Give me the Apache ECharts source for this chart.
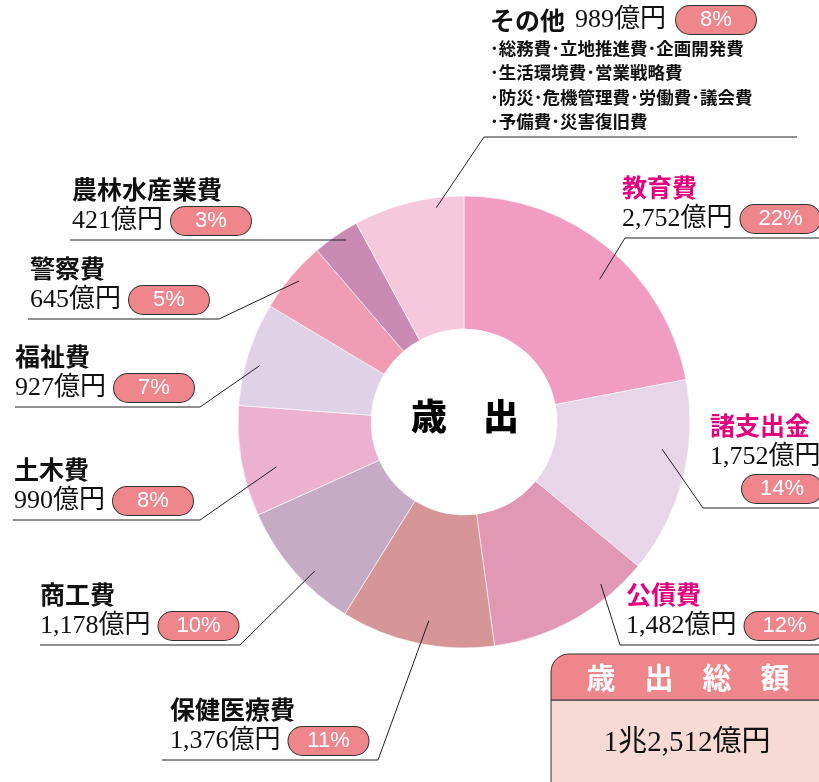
<!DOCTYPE html>
<html>
<head>
<meta charset="utf-8">
<script src="https://cdn.jsdelivr.net/npm/echarts@6/dist/echarts.min.js"></script>
<style>
    html, body { margin: 0; padding: 0; background: #fff; }
    #main { width: 819px; height: 782px; }
</style>
</head>
<body>
<div id="main"></div>
<script>
// 歳出の内訳（億円）
const names = ['教育費', '諸支出金', '公債費', '保健医療費', '商工費', '土木費', '福祉費', '警察費', '農林水産業費', 'その他'];
const amounts = [2752, 1752, 1482, 1376, 1178, 990, 927, 645, 421, 989];
const shares = [22, 14, 12, 11, 10, 8, 7, 5, 3, 8];
const highlightNames = ['教育費', '諸支出金', '公債費'];
const otherItems = ['･総務費･立地推進費･企画開発費', '･生活環境費･営業戦略費', '･防災･危機管理費･労働費･議会費', '･予備費･災害復旧費'];
const centerText = '歳　出';
const totalTitle = '歳　出　総　額';
const totalText = '1兆2,512億円';

const sliceColors = ['#F09DC1', '#E7D6E8', '#E098B4', '#D69597', '#C6ABC5', '#EBB1CF', '#DFD1E6', '#F09CB4', '#C98BB4', '#F5C8DC'];

// ラベル配置: [文字x, 下線y, 折れ点x, 下線端x, 引出し位置(扇内の割合), 引出し半径]
const labelPlace = [
    [622, 238, 625, 819, 0.55, 197],
    [710, 508, 703, 819, 0.37, 200],
    [626, 645, 620, 819, 0.24, 212],
    [170, 760, 378, 162, 0.45, 202],
    [40, 645, 240, 40, 0.39, 211],
    [14, 520, 200, 13, 0.38, 193],
    [15, 407, 200, 15, 0.42, 212],
    [30, 319, 219, 28, 0.52, 217],
    [72, 240, null, 70, 0.63, 217],
    [490, 137, 484, 797, 0.74, 216],
];

const fmt = (n) => String(n).replace(/\B(?=(\d{3})+(?!\d))/g, ',');

const SANS = "'Noto Sans CJK JP', 'Noto Sans', sans-serif";
const SERIF = "'Liberation Serif', 'Noto Sans CJK JP', serif";
const PIE_CENTER = [464, 422];
const PIE_RADIUS = [93, 226];

const chart = echarts.init(document.getElementById('main'), null, { renderer: 'canvas' });

const labelFormatter = (p) => {
    const i = p.dataIndex;
    const tag = highlightNames.indexOf(p.name) >= 0 ? 'h' : 'n';
    const amt = fmt(amounts[i]) + '億円';
    const badge = `{b|${ shares[i] }%}`;
    if (p.name === 'その他') {
        return `{${ tag }|${ p.name }}{sp2| }{v|${ amt }}{sp2| }${ badge }\n`
            + otherItems.map(t => `{s|${ t }}`).join('\n');
    }
    if (p.name === '諸支出金') {
        return `{${ tag }|${ p.name }}\n{v|${ amt }}\n{sp3| }${ badge }`;
    }
    return `{${ tag }|${ p.name }}\n{v|${ amt }}{sp| }${ badge }`;
};

const pieData = names.map((n, i) => ({ name: n, value: amounts[i], itemStyle: { color: sliceColors[i] } }));

const option = {
    animation: false,
    backgroundColor: '#fff',
    textStyle: { fontFamily: SANS },
    series: [
        {
            // 扇形
            type: 'pie',
            center: PIE_CENTER,
            radius: PIE_RADIUS,
            startAngle: 90,
            clockwise: true,
            silent: true,
            z: 2,
            itemStyle: { borderColor: '#fff', borderWidth: 0.6 },
            label: { show: false },
            labelLine: { show: false },
            data: pieData
        },
        {
            // ラベルと引出し線（扇の上に描く）
            type: 'pie',
            center: PIE_CENTER,
            radius: PIE_RADIUS,
            startAngle: 90,
            clockwise: true,
            silent: true,
            z: 5,
            avoidLabelOverlap: false,
            itemStyle: { color: 'rgba(0,0,0,0)', borderWidth: 0 },
            data: names.map((n, i) => ({ name: n, value: amounts[i] })),
            label: {
                show: true,
                position: 'outside',
                formatter: labelFormatter,
                rich: {
                    n: { fontFamily: SANS, fontSize: 25, fontWeight: 'bold', color: '#111', lineHeight: 32 },
                    h: { fontFamily: SANS, fontSize: 25, fontWeight: 'bold', color: '#E4007F', lineHeight: 32 },
                    v: { fontFamily: SERIF, fontSize: 26, color: '#111', lineHeight: 32 },
                    b: {
                        fontFamily: "'Liberation Sans', sans-serif", fontSize: 22, color: '#fff',
                        backgroundColor: '#EE868C', borderColor: '#333', borderWidth: 1, borderRadius: 14,
                        width: 80, height: 28, align: 'center', lineHeight: 32
                    },
                    s: { fontFamily: SANS, fontSize: 17.5, fontWeight: 'bold', color: '#111', lineHeight: 24.5 },
                    sp: { width: 8, fontSize: 10 },
                    sp2: { width: 10, fontSize: 10 },
                    sp3: { width: 32, fontSize: 10 },
                }
            },
            labelLine: {
                show: true,
                showAbove: true,
                smooth: false,
                length: 10,
                length2: 10,
                lineStyle: { color: '#222', width: 1 }
            },
            labelLayout: function (params) {
                const i = params.dataIndex;
                const [tx, uy, ex, endX, frac, r] = labelPlace[i];
                const lay = chart.getModel().getSeriesByIndex(params.seriesIndex).getData().getItemLayout(i);
                const a = lay.startAngle + (lay.endAngle - lay.startAngle) * frac;
                const sx = lay.cx + r * Math.cos(a);
                const sy = lay.cy + r * Math.sin(a);
                const pts = ex === null
                    ? [[sx, sy], [sx, uy], [endX, uy]]
                    : [[sx, sy], [ex, uy], [endX, uy]];
                return {
                    x: tx,
                    y: uy - 3,
                    align: 'left',
                    verticalAlign: 'bottom',
                    labelLinePoints: pts
                };
            }
        }
    ],
    graphic: [
        {
            type: 'text',
            z: 100,
            style: {
                text: centerText, x: 465, y: 416,
                font: "900 36px " + SANS,
                fill: '#000', textAlign: 'center', textVerticalAlign: 'middle'
            }
        },
        {
            type: 'group',
            z: 100,
            children: [
                {
                    type: 'rect',
                    shape: { x: 551, y: 700, width: 300, height: 100, r: [0, 0, 0, 18] },
                    style: { fill: '#F8DAD5', stroke: '#333', lineWidth: 1 }
                },
                {
                    type: 'rect',
                    shape: { x: 551, y: 654, width: 300, height: 46, r: [18, 0, 0, 0] },
                    style: { fill: '#EE868C', stroke: '#333', lineWidth: 1 }
                },
                {
                    type: 'text',
                    style: {
                        text: totalTitle, x: 688, y: 678,
                        font: "bold 29px " + SANS,
                        fill: '#fff', textAlign: 'center', textVerticalAlign: 'middle'
                    }
                },
                {
                    type: 'text',
                    style: {
                        text: totalText, x: 687, y: 743,
                        font: "29px " + SERIF,
                        fill: '#111', textAlign: 'center', textVerticalAlign: 'middle'
                    }
                }
            ]
        }
    ]
};

chart.setOption(option);
</script>
</body>
</html>
